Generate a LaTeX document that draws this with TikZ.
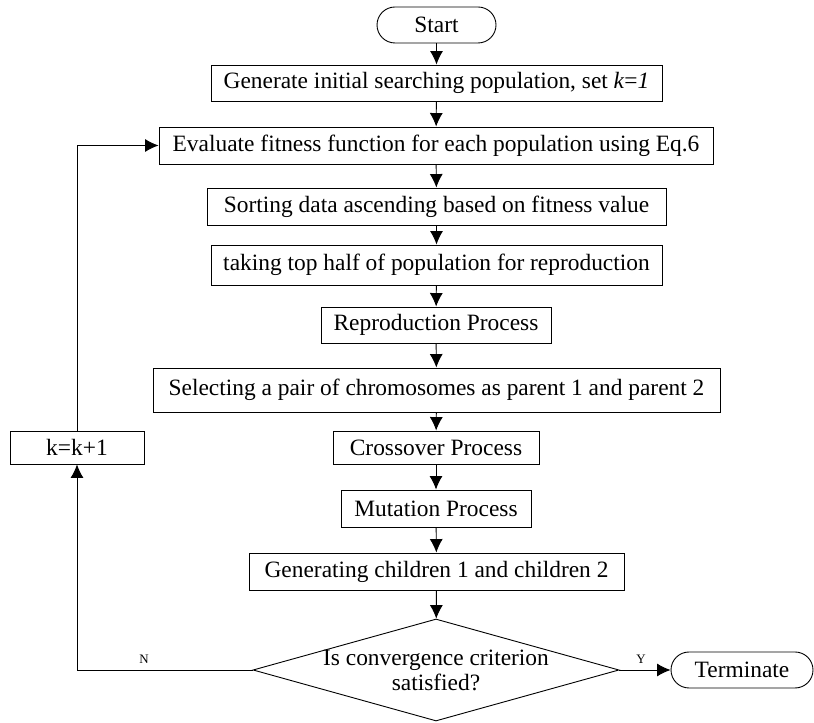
\documentclass[tikz,border=0pt]{standalone}
\usepackage{fontspec}
\setmainfont{Liberation Serif}
\usetikzlibrary{arrows.meta}
\usetikzlibrary{shapes}

\tikzset{
  stepbox/.style={draw,black,line width=0.9bp,inner sep=0pt,font=\fontsize{23.5}{25}\selectfont},
  endbox/.style={stepbox,rounded corners=18bp},
  testbox/.style={draw,black,line width=0.9bp,diamond,inner sep=0pt,aspect=3.6,
    minimum width=366bp,minimum height=102bp},
  flow/.style={black,line width=0.9bp,-{Latex[length=13.5bp,width=13bp]}},
  tag/.style={font=\fontsize{13}{15}\selectfont},
}

\begin{document}
\begin{tikzpicture}[x=1bp,y=1bp]
\useasboundingbox (0,0) rectangle (814,723);
%%
\node (node_start) at (436.5bp,698bp) [endbox,minimum width=119bp,minimum height=36bp] {Start};
  \node (node_init) at (436.5bp,640bp) [stepbox,minimum width=451bp,minimum height=36bp] {Generate initial searching population, set \textit{k}=\textit{1}};
  \node (node_eval) at (436bp,577.5bp) [stepbox,minimum width=554bp,minimum height=37bp] {Evaluate fitness function for each population using Eq.6};
  \node (node_sort) at (436.5bp,516.5bp) [stepbox,minimum width=459bp,minimum height=37bp] {Sorting data ascending based on fitness value};
  \node (node_half) at (436.5bp,458bp) [stepbox,minimum width=451bp,minimum height=40bp] {taking top half of population for reproduction};
  \node (node_repro) at (436bp,398bp) [stepbox,minimum width=230bp,minimum height=36bp] {Reproduction Process};
  \node (node_pair) at (436.5bp,333bp) [stepbox,minimum width=567bp,minimum height=44bp] {Selecting a pair of chromosomes as parent 1 and parent 2};
  \node (node_cross) at (436bp,275.5bp) [stepbox,minimum width=206bp,minimum height=33bp] {Crossover Process};
  \node (node_mut) at (436bp,214.5bp) [stepbox,minimum width=190bp,minimum height=37bp] {Mutation Process};
  \node (node_child) at (436.5bp,151.5bp) [stepbox,minimum width=375bp,minimum height=37bp] {Generating children 1 and children 2};
  \node (node_conv) at (436bp,53bp) [testbox,label={[stepbox,draw=none,align=center]center:Is convergence criterion\\satisfied?}] {};
  \node (node_term) at (742bp,53bp) [endbox,minimum width=142bp,minimum height=36bp] {Terminate};
  \node (node_inc) at (77bp,275.5bp) [stepbox,minimum width=134bp,minimum height=33bp] {k=k+1};
  \coordinate (node_low) at (77bp,53bp);
  \coordinate (node_high) at (77bp,577.5bp);
  \node (node_no) at (144bp,64bp) [tag] {N};
  \node (node_yes) at (641bp,64bp) [tag] {Y};
  \draw [flow] (node_start) -- (node_init);
  \draw [flow] (node_init) -- (node_eval);
  \draw [flow] (node_eval) -- (node_sort);
  \draw [flow] (node_sort) -- (node_half);
  \draw [flow] (node_half) -- (node_repro);
  \draw [flow] (node_repro) -- (node_pair);
  \draw [flow] (node_pair) -- (node_cross);
  \draw [flow] (node_cross) -- (node_mut);
  \draw [flow] (node_mut) -- (node_child);
  \draw [flow] (node_child) -- (node_conv);
  \draw [flow] (node_conv) -- (node_term);
  \draw [flow] (node_conv.west) -- (node_low) -- (node_inc);
  \draw [flow] (node_inc) -- (node_high) -- (node_eval);
%
\end{tikzpicture}
\end{document}
